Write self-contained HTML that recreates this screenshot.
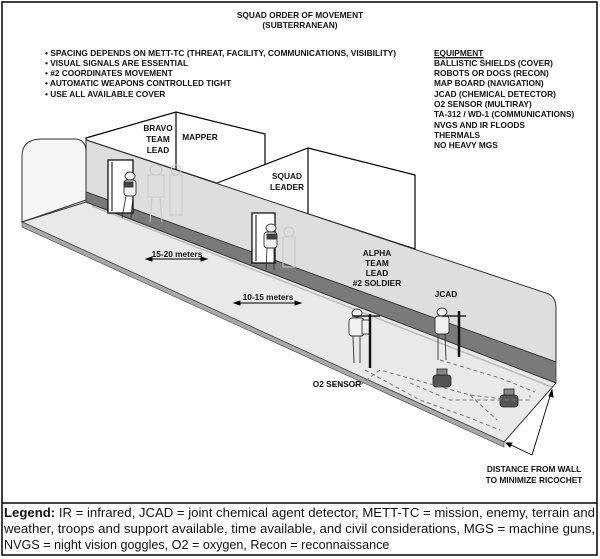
<!DOCTYPE html>
<html><head><meta charset="utf-8"><style>
html,body{margin:0;padding:0;background:#fff;}
svg{display:block;}
text{font-family:"Liberation Sans",Arial,sans-serif;fill:#111;}
.b{font-weight:bold;font-size:8.3px;}
</style></head><body>
<svg width="600" height="559" viewBox="0 0 600 559" xmlns="http://www.w3.org/2000/svg">
<rect x="2" y="2" width="595" height="553" fill="#fff" stroke="#000" stroke-width="1.5"/>
<line x1="2" y1="503" x2="597" y2="503" stroke="#000" stroke-width="1.5"/>

<!-- title -->
<text class="b" x="300" y="18" text-anchor="middle">SQUAD ORDER OF MOVEMENT</text>
<text class="b" x="300" y="28" text-anchor="middle">(SUBTERRANEAN)</text>
<g class="b">
<text class="b" x="45" y="56" textLength="351" lengthAdjust="spacingAndGlyphs">• SPACING DEPENDS ON METT-TC (THREAT, FACILITY, COMMUNICATIONS, VISIBILITY)</text>
<text class="b" x="45" y="66">• VISUAL SIGNALS ARE ESSENTIAL</text>
<text class="b" x="45" y="76">• #2 COORDINATES MOVEMENT</text>
<text class="b" x="45" y="86">• AUTOMATIC WEAPONS CONTROLLED TIGHT</text>
<text class="b" x="45" y="97">• USE ALL AVAILABLE COVER</text>
<text class="b" x="434" y="56" text-decoration="underline">EQUIPMENT</text>
<line x1="434" y1="58" x2="484" y2="58" stroke="#111" stroke-width="0.8"/>
<text class="b" x="434" y="66">BALLISTIC SHIELDS (COVER)</text>
<text class="b" x="434" y="76">ROBOTS OR DOGS (RECON)</text>
<text class="b" x="434" y="86">MAP BOARD (NAVIGATION)</text>
<text class="b" x="434" y="97">JCAD (CHEMICAL DETECTOR)</text>
<text class="b" x="434" y="107">O2 SENSOR (MULTIRAY)</text>
<text class="b" x="434" y="117">TA-312 / WD-1 (COMMUNICATIONS)</text>
<text class="b" x="434" y="128">NVGS AND IR FLOODS</text>
<text class="b" x="434" y="138">THERMALS</text>
<text class="b" x="434" y="148">NO HEAVY MGS</text>
</g>

<!-- rooms -->
<polygon points="86,138 176,112 265,134 265,199 86,140" fill="#fff" stroke="#000" stroke-width="1.2"/>
<line x1="176" y1="112" x2="176" y2="170" stroke="#000" stroke-width="1.2"/>
<polygon points="217,183 308,148 415,175 415,249 217,184" fill="#fff" stroke="#000" stroke-width="1.2"/>
<line x1="308" y1="148" x2="308" y2="214" stroke="#000" stroke-width="1.2"/>

<!-- left end arch face -->
<path d="M22,222 L22,156 Q22,140 40,139 L76,139 Q86,140 86,152 L86,200 Z" fill="#f6f6f6" stroke="#333" stroke-width="1"/>
<!-- back wall -->
<path d="M86,140 L546,293 Q556,296 556,308 L556,362 L86,192 Z" fill="#dedede" stroke="#333" stroke-width="1"/>
<!-- stripe -->
<polygon points="86,192 556,362 556,383 86,202" fill="#7a7a7a" stroke="#333" stroke-width="0.8"/>
<!-- floor -->
<polygon points="86,202 556,383 504,442 22,222" fill="#e9e9e9" stroke="#333" stroke-width="1"/>
<polygon points="22,222 504,442 504,447 22,227" fill="#a9a9a9" stroke="#444" stroke-width="0.6"/>
<line x1="92" y1="206" x2="552" y2="387" stroke="#bbb" stroke-width="1.5"/>

<!-- doors -->
<rect x="108" y="160" width="25" height="53" fill="#fff" stroke="#000" stroke-width="1.2"/>
<line x1="112" y1="162" x2="112" y2="211" stroke="#000" stroke-width="1"/>
<rect x="252" y="213" width="23" height="50" fill="#fff" stroke="#000" stroke-width="1.2"/>
<line x1="256" y1="215" x2="256" y2="261" stroke="#000" stroke-width="1"/>

<!-- ghost figures -->
<g fill="none" stroke="#c8c8c8" stroke-width="1">
<ellipse cx="156" cy="170" rx="6" ry="5"/><rect x="148" y="175" width="16" height="22"/><line x1="152" y1="197" x2="150" y2="222"/><line x1="160" y1="197" x2="162" y2="222"/>
<ellipse cx="176" cy="170" rx="5" ry="5"/><rect x="170" y="175" width="12" height="40"/>
<ellipse cx="289" cy="232" rx="5" ry="5"/><rect x="283" y="237" width="12" height="30"/>
</g>

<!-- soldiers -->
<g fill="#f2f2f2" stroke="#333" stroke-width="0.9">
<!-- bravo -->
<ellipse cx="130" cy="176" rx="5" ry="4"/><rect x="124" y="180" width="12" height="16" rx="3"/><path d="M126,196 L122,218 M133,196 L131,218"/>
<rect x="124" y="182" width="9" height="5" fill="#444"/>
<!-- squad leader -->
<ellipse cx="271" cy="228" rx="5" ry="4"/><rect x="264" y="232" width="13" height="16" rx="3"/><path d="M267,248 L266,270 M274,248 L274,270"/>
<rect x="267" y="234" width="9" height="5" fill="#444"/>
<!-- alpha -->
<ellipse cx="357" cy="313" rx="5" ry="4"/><rect x="349" y="318" width="15" height="18" rx="3"/><rect x="362" y="320" width="8" height="14"/><path d="M353,336 L354,363 M360,336 L360,363"/>
<!-- jcad -->
<ellipse cx="442" cy="312" rx="5" ry="4"/><rect x="435" y="316" width="14" height="18" rx="3"/><path d="M438,334 L438,360 M445,334 L446,360"/>
</g>
<g stroke="#111" stroke-width="2.5">
<line x1="370" y1="314" x2="370" y2="368"/>
<line x1="459" y1="311" x2="459" y2="357"/>
</g>
<g stroke="#222" stroke-width="1.5">
<line x1="352" y1="316" x2="380" y2="316"/>
<line x1="442" y1="316" x2="466" y2="316"/>
</g>

<!-- robots -->
<g fill="#555" stroke="#222" stroke-width="0.8">
<rect x="433" y="375" width="18" height="12" rx="3"/><rect x="437" y="369" width="10" height="6" fill="#888"/>
<rect x="500" y="395" width="18" height="12" rx="3"/><rect x="504" y="389" width="10" height="6" fill="#888"/>
</g>

<!-- dashed lines -->
<g fill="none" stroke="#777" stroke-width="1" stroke-dasharray="4,3">
<path d="M332,385 L360,385 L380,370 L470,395 L510,400"/>
<path d="M365,370 L420,400 L470,418 L500,430"/>
<path d="M410,383 L450,400 L530,400 L530,395"/>
<path d="M440,360 L500,378 L535,392"/>
<path d="M470,395 L497,420"/>
</g>

<!-- distance arrows -->
<g stroke="#000" stroke-width="0.9" fill="#000">
<line x1="148" y1="259" x2="205" y2="259"/><polygon points="146,259 152,257 152,261"/><polygon points="207,259 201,257 201,261"/>
<line x1="236" y1="303" x2="299" y2="303"/><polygon points="234,303 240,301 240,305"/><polygon points="301,303 295,301 295,305"/>
<line x1="532" y1="455" x2="509" y2="444"/><polygon points="506,443 512,443 510,447"/>
<line x1="532" y1="455" x2="551" y2="393"/><polygon points="552,390 553,397 549,396"/>
</g>

<!-- labels -->
<g class="b" text-anchor="middle">
<text class="b" x="158" y="131" text-anchor="middle">BRAVO</text>
<text class="b" x="158" y="142" text-anchor="middle">TEAM</text>
<text class="b" x="158" y="153" text-anchor="middle">LEAD</text>
<text class="b" x="200" y="140" text-anchor="middle">MAPPER</text>
<text class="b" x="287" y="179" text-anchor="middle">SQUAD</text>
<text class="b" x="287" y="190" text-anchor="middle">LEADER</text>
<text class="b" x="177" y="257" text-anchor="middle">15-20 meters</text>
<text class="b" x="268" y="300" text-anchor="middle">10-15 meters</text>
<text class="b" x="377" y="256" text-anchor="middle">ALPHA</text>
<text class="b" x="377" y="266" text-anchor="middle">TEAM</text>
<text class="b" x="377" y="276" text-anchor="middle">LEAD</text>
<text class="b" x="377" y="286" text-anchor="middle">#2 SOLDIER</text>
<text class="b" x="446" y="297" text-anchor="middle">JCAD</text>
<text class="b" x="337" y="387" text-anchor="middle">O2 SENSOR</text>
<text class="b" x="534" y="472" text-anchor="middle">DISTANCE FROM WALL</text>
<text class="b" x="534" y="483" text-anchor="middle">TO MINIMIZE RICOCHET</text>
</g>

<!-- legend -->
<g style="font-size:12.6px">
<text x="4" y="517" textLength="591" lengthAdjust="spacingAndGlyphs"><tspan font-weight="bold">Legend:</tspan> IR = infrared, JCAD = joint chemical agent detector, METT-TC = mission, enemy, terrain and</text>
<text x="4" y="533" textLength="591" lengthAdjust="spacingAndGlyphs">weather, troops and support available, time available, and civil considerations, MGS = machine guns,</text>
<text x="4" y="549">NVGS = night vision goggles, O2 = oxygen, Recon = reconnaissance</text>
</g>
</svg>
</body></html>
